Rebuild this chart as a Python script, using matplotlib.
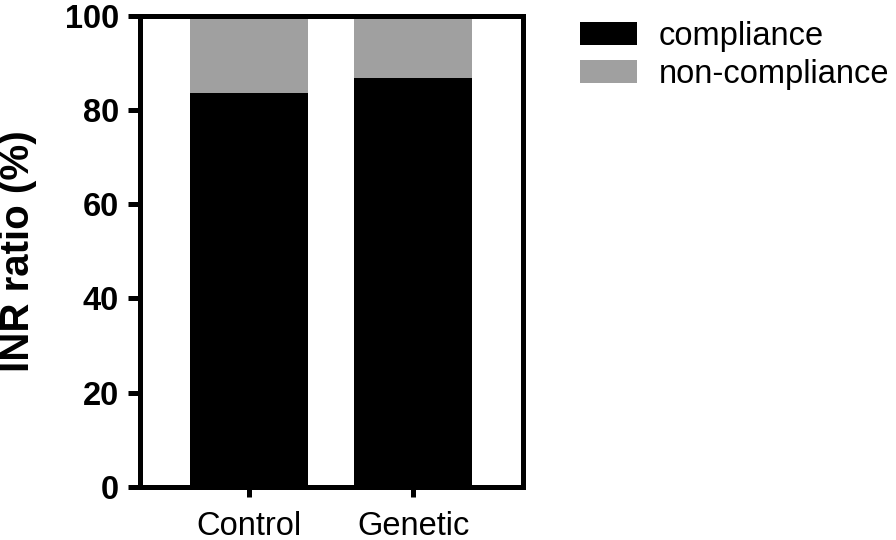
import matplotlib
matplotlib.use("Agg")
import matplotlib.pyplot as plt
from matplotlib.patches import Patch

plt.rcParams['font.family'] = ['Liberation Sans', 'DejaVu Sans']

categories = ["Control", "Genetic"]
compliance = [83.5, 86.7]
non_compliance = [16.5, 13.3]
series_labels = ["compliance", "non-compliance"]
yticks = [0, 20, 40, 60, 80, 100]

fig = plt.figure(figsize=(8.96, 5.4), dpi=100)
ax = fig.add_axes([140/896, 1 - 487/540, (523-140)/896, (487-15.5)/540])

x = list(range(len(categories)))
ax.bar(x, compliance, width=0.72, color="black", linewidth=0, label=series_labels[0])
ax.bar(x, non_compliance, width=0.72, bottom=compliance, color="#a0a0a0", linewidth=0, label=series_labels[1])

ax.set_xlim(-0.665, 1.67)
ax.set_ylim(0, 100)
ax.set_yticks(yticks)
ax.set_yticklabels([str(v) for v in yticks], fontweight="bold", fontsize=23.5)
ax.set_xticks(x)
ax.set_xticklabels(categories, fontsize=23.5)
for s in ax.spines.values():
    s.set_linewidth(3.6)
ax.tick_params(axis="y", length=9, width=3.6, pad=6)
ax.tick_params(axis="x", length=7, width=3.6, pad=10)
ax.set_ylabel("INR ratio (%)", fontsize=29, fontweight="bold", labelpad=20)

handles = [Patch(facecolor="black", edgecolor="none"), Patch(facecolor="#a0a0a0", edgecolor="none")]
fig.legend(handles, series_labels, loc="upper left", bbox_to_anchor=(580/896, 1 - 21/540),
           frameon=False, fontsize=23.5, handlelength=1.76, handleheight=0.7,
           handletextpad=0.65, labelspacing=0.22, borderaxespad=0, borderpad=0)

fig.savefig("out.png", dpi=100)
